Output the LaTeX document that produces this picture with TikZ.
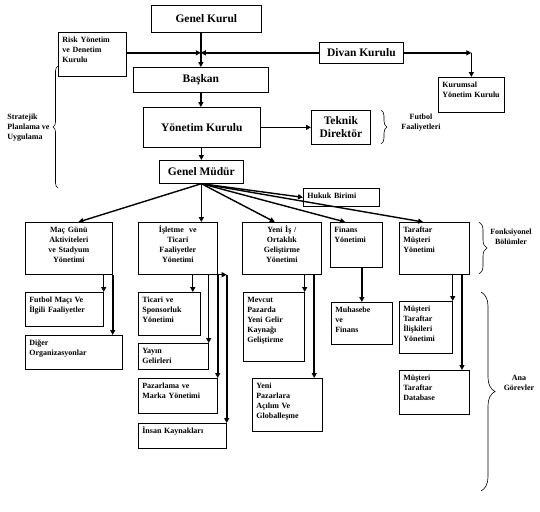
\documentclass[tikz,border=0pt]{standalone}
\usepackage{fontspec}
\setmainfont{Liberation Serif}
\usetikzlibrary{arrows.meta,decorations.pathreplacing}

\begin{document}
\begin{tikzpicture}[x=1pt, y=-1pt,
    big/.style={draw, line width=0.7pt, anchor=north west, align=center,
      font=\fontsize{11.5}{13}\selectfont\bfseries},
    box/.style={draw, line width=0.7pt, anchor=north west, align=left,
      inner xsep=4pt, inner ysep=4pt, text height=6pt,
      font=\fontsize{8}{10}\selectfont\bfseries},
    sz/.style 2 args={minimum width=#1, minimum height=#2,
      text width=#1-8, text depth=#2-14},
    arr/.style={line width=1.4pt, -{Triangle[length=5pt, width=5pt]}},
    thk/.style={line width=2pt, -{Triangle[length=5pt, width=5pt]}},
    brc/.style={decorate, decoration={brace, amplitude=#1}, line width=0.6pt},
    note/.style={align=center, font=\fontsize{8}{10}\selectfont\bfseries}]
        \useasboundingbox[fill=white] (0, 0) rectangle (540, 511);

        \node[big, minimum width=110, minimum height=27] (gk) at (151, 5) {Genel Kurul};
        \node[box, sz={68}{44}] (risk) at (58, 32) {Risk Yönetim\\ve Denetim\\Kurulu};
        \node[big, minimum width=84, minimum height=21] (div) at (319, 42) {Divan Kurulu};
        \node[big, minimum width=135, minimum height=25] (bsk) at (133, 67) {Başkan};
        \node[box, sz={66}{35}] (kyk) at (438, 77) {Kurumsal\\Yönetim Kurulu};
        \node[big, minimum width=117, minimum height=40] (yk) at (143, 107) {Yönetim Kurulu};
        \node[big, minimum width=59, minimum height=34] (td) at (311, 110) {Teknik\\Direktör};
        \node[big, minimum width=84, minimum height=23] (gm) at (159, 160) {Genel Müdür};
        \node[box, sz={76}{18}] (huk) at (303, 188) {Hukuk Birimi};

        \node[box, sz={87}{52}, align=center] (mac) at (25, 222) {Maç Günü\\Aktiviteleri\\ve Stadyum\\Yönetimi};
        \node[box, sz={79}{52}, align=center] (isl) at (138, 222) {İşletme\ \ ve\\Ticari\\Faaliyetler\\Yönetimi};
        \node[box, sz={79}{52}, align=center] (yeni) at (242, 222) {Yeni İş /\\Ortaklık\\Geliştirme\\Yönetimi};
        \node[box, sz={52}{45}] (fin) at (330, 222) {Finans\\Yönetimi};
        \node[box, sz={70}{52}] (tar) at (399, 222) {Taraftar\\Müşteri\\Yönetimi};

        \node[box, sz={78}{34}] (fut) at (25, 292) {Futbol Maçı Ve\\İlgili Faaliyetler};
        \node[box, sz={97}{34}] (dig) at (25, 335) {Diğer\\Organizasyonlar};
        \node[box, sz={62}{43}] (tic) at (138, 292) {Ticari ve\\Sponsorluk\\Yönetimi};
        \node[box, sz={70}{26}] (yay) at (138, 343) {Yayın\\Gelirleri};
        \node[box, sz={79}{35}] (paz) at (138, 378) {Pazarlama ve\\Marka Yönetimi};
        \node[box, sz={88}{25}] (ins) at (138, 423) {İnsan Kaynakları};
        \node[box, sz={61}{69}] (mev) at (243, 292) {Mevcut\\Pazarda\\Yeni Gelir\\Kaynağı\\Geliştirme};
        \node[box, sz={70}{53}] (ypaz) at (252, 378) {Yeni\\Pazarlara\\Açılım Ve\\Globalleşme};
        \node[box, sz={61}{42}] (muh) at (331, 302) {Muhasebe\\ve\\Finans};
        \node[box, sz={53}{52}] (mtil) at (399, 301) {Müşteri\\Taraftar\\İlişkileri\\Yönetimi};
        \node[box, sz={70}{44}] (mtdb) at (399, 370) {Müşteri\\Taraftar\\Database};

        \coordinate (j) at (bsk.north |- div.west);
        \draw[arr] (gk.south -| bsk.north) -- (bsk.north);
        \draw[arr] (risk.east |- j) -- (j);
        \draw[arr] (div.west) -- (j);
        \draw[arr] (div.east) -- (div.east -| kyk.north);
        \draw[arr] (div.east -| kyk.north) -- (kyk.north);
        \draw[arr] (bsk.south) -- (bsk.south |- yk.north);
        \draw[arr] (yk.east) -- (td.west);
        \draw[arr] (yk.south -| gm.north) -- (gm.north);

        \draw[arr] (gm.south) -- (huk.west);
        \draw[arr] (gm.south) -- (mac.70);
        \draw[arr] (gm.south) -- (gm.south |- isl.north);
        \draw[arr] (gm.south) -- (yeni.105);
        \draw[arr] (gm.south) -- (fin.116);
        \draw[arr] (gm.south) -- (tar.113);

        \draw[arr] (fut.north east |- mac.south) -- (fut.north east);
        \draw[thk] (mac.south east) -- (mac.south east |- dig.north);
        \draw[arr] (tic.43 |- isl.south) -- (tic.43);
        \draw[arr] (yay.north east |- isl.south) -- (yay.north east);
        \draw[thk] (isl.south east) -- (paz.north east);
        \coordinate (ik) at (isl.south east -| ins.north east);
        \draw[arr] (isl.south east) -- (ik);
        \draw[thk] (ik) -- (ins.north east);
        \draw[arr] (mev.north east |- yeni.south) -- (mev.north east);
        \draw[thk] (ypaz.45 |- yeni.south) -- (ypaz.45);
        \draw[arr] (muh.north |- fin.south) -- (muh.north);
        \draw[arr] (mtil.north east |- tar.south) -- (mtil.north east);
        \draw[thk] (mtdb.39 |- tar.south) -- (mtdb.39);

        \draw[brc=5] (58, 188) -- (58, 66);
        \node[note, align=left, anchor=east] (strat) at (53, 128) {Stratejik\\Planlama ve\\Uygulama};
        \draw[brc=6] (381, 110) -- (381, 144);
        \node[note] (futn) at (421, 123) {Futbol\\Faaliyetleri};
        \draw[brc=8] (479, 222) -- (479, 274);
        \node[note] (fonk) at (511, 237) {Fonksiyonel\\Bölümler};
        \draw[brc=14] (481, 292) -- (481, 491);
        \node[note] (ana) at (519, 383) {Ana\\Görevler};
      \end{tikzpicture}
\end{document}
